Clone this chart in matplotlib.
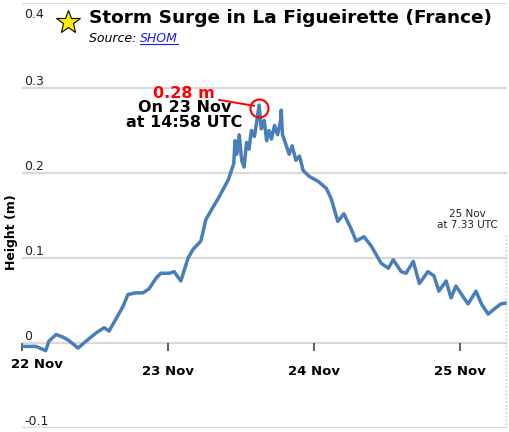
import matplotlib
matplotlib.use('Agg')
import matplotlib.pyplot as plt
from matplotlib.lines import Line2D

# Hours since 22 Nov 00:00 UTC and surge height (m)
hours = [0.0, 2.3, 3.9, 4.4, 5.6, 6.7, 7.7, 9.2, 10.5, 12.2, 13.5, 14.3, 15.5, 16.6, 17.4,
         18.7, 19.9, 20.9, 22.0, 22.8, 24.2, 25.0, 26.1, 27.3, 28.1, 29.4, 30.2, 31.4, 32.4,
         33.9, 34.8, 35.0, 35.3, 35.7, 36.1, 36.5, 36.9, 37.3, 37.7, 38.2, 38.6, 38.97, 39.3,
         39.8, 40.2, 40.6, 41.0, 41.5, 42.0, 42.5, 42.6, 42.8, 43.3, 43.9, 44.4, 45.0, 45.6,
         46.2, 47.2, 48.7, 50.0, 50.8, 51.9, 52.9, 54.1, 54.9, 56.2, 57.4, 59.0, 60.2,
         61.0, 62.3, 63.1, 64.3, 65.3, 66.7, 67.7, 68.5, 69.7, 70.5, 71.3, 73.3, 74.6, 75.5,
         76.6, 77.6, 78.7, 79.55]
height = [-0.004, -0.004, -0.009, 0.002, 0.010, 0.007, 0.003, -0.006, 0.002, 0.012, 0.018,
          0.014, 0.029, 0.043, 0.057, 0.059, 0.059, 0.064, 0.076, 0.082, 0.082, 0.084, 0.073,
          0.100, 0.110, 0.120, 0.145, 0.160, 0.172, 0.192, 0.211, 0.238, 0.222, 0.245, 0.215,
          0.207, 0.236, 0.228, 0.250, 0.243, 0.262, 0.280, 0.252, 0.262, 0.238, 0.250, 0.240,
          0.256, 0.245, 0.262, 0.274, 0.245, 0.235, 0.222, 0.232, 0.215, 0.220, 0.203, 0.196,
          0.190, 0.182, 0.170, 0.143, 0.152, 0.134, 0.120, 0.125, 0.114, 0.094, 0.088, 0.098,
          0.084, 0.082, 0.096, 0.070, 0.084, 0.079, 0.061, 0.073, 0.053, 0.067, 0.046, 0.061,
          0.046, 0.034, 0.040, 0.046, 0.047]

y_ticks = [-0.1, 0, 0.1, 0.2, 0.3, 0.4]
y_labels = ['-0.1', '0', '0.1', '0.2', '0.3', '0.4']
day_ticks = [24, 48, 72]
day_labels = ['23 Nov', '24 Nov', '25 Nov']

peak_h, peak_v = 38.97, 0.28
end_h = 79.55

line_color = '#4a7ebb'

fig = plt.figure(figsize=(5.09, 4.32), dpi=100)
ax = fig.add_axes([22 / 509, 4 / 432, 485 / 509, 425 / 432])

ax.plot(hours, height, color=line_color, lw=2.5, solid_joinstyle='round')

ax.set_xlim(0, 79.7)
ax.set_ylim(-0.1, 0.4)

# horizontal grid lines, labels sit just above each line (top one below it)
for v, lab in zip(y_ticks, y_labels):
    ax.axhline(v, color='#d9d9d9', lw=1.6, zorder=0)
    if v == 0.4:
        ax.text(2 / 485, v - 0.006, lab, transform=ax.get_yaxis_transform(),
                ha='left', va='top', fontsize=9, color='#222222')
    else:
        ax.text(2 / 485, v, lab, transform=ax.get_yaxis_transform(),
                ha='left', va='bottom', fontsize=9, color='#222222')

for s in ax.spines.values():
    s.set_visible(False)
ax.set_yticks([])
ax.spines['bottom'].set_position(('data', 0))
ax.set_xticks([0] + day_ticks)
ax.set_xticklabels([''] + day_labels, fontweight='bold', fontsize=9.5)
ax.tick_params(axis='x', length=6, width=1.2, color='#444444', pad=10)
ax.text(-11 / 485 * 79.7, -0.018, '22 Nov', ha='left', va='top', fontweight='bold', fontsize=9.5)

fig.text(12 / 509, 1 - 232 / 432, 'Height (m)', rotation=90, ha='center', va='center',
         fontweight='bold', fontsize=9)

# end of record
ax.plot([end_h, end_h], [-0.1, 0.128], color='#bbbbbb', lw=1, ls=':')
ax.text(73.2, 0.133, '25 Nov\nat 7.33 UTC', ha='center', va='bottom', fontsize=7.5,
        color='#222222', linespacing=1.1)

# peak annotation
ax.plot(peak_h, peak_v - 0.004, 'o', ms=13, mfc='none', mec='red', mew=1.5)
ax.annotate('0.28 m', xy=(peak_h - 0.8, peak_v - 0.001), xytext=(26.6, 0.293),
            ha='center', va='center', color='red', fontweight='bold', fontsize=11.5,
            arrowprops=dict(arrowstyle='-', color='red', lw=1.4, shrinkA=1, shrinkB=0))
ax.text(26.7, 0.2855, 'On 23 Nov\nat 14:58 UTC', ha='center', va='top',
        fontweight='bold', fontsize=11.5, linespacing=1.0)

# title block
star = Line2D([68 / 509], [1 - 22 / 432], marker='*', ms=18, mfc='#ffee00', mec='black',
              mew=0.8, transform=fig.transFigure)
fig.lines.append(star)

fig.text(89 / 509, 1 - 18 / 432, 'Storm Surge in La Figueirette (France)', ha='left',
         va='center', fontweight='bold', fontsize=13.3)
src = fig.text(89 / 509, 1 - 38 / 432, 'Source: ', ha='left', va='center', style='italic',
               fontsize=9)
fig.canvas.draw()
bb = src.get_window_extent(fig.canvas.get_renderer())
x_shom = bb.x1 / fig.bbox.width
shom = fig.text(x_shom, 1 - 38 / 432, 'SHOM', ha='left', va='center', style='italic',
                fontsize=9, color='#1a1aff')
fig.canvas.draw()
bb2 = shom.get_window_extent(fig.canvas.get_renderer())
uy = (bb2.y0 + 1) / fig.bbox.height
fig.lines.append(Line2D([bb2.x0 / fig.bbox.width, bb2.x1 / fig.bbox.width], [uy, uy],
                        color='#1a1aff', lw=0.8, transform=fig.transFigure))

fig.savefig('out.png', dpi=100)
